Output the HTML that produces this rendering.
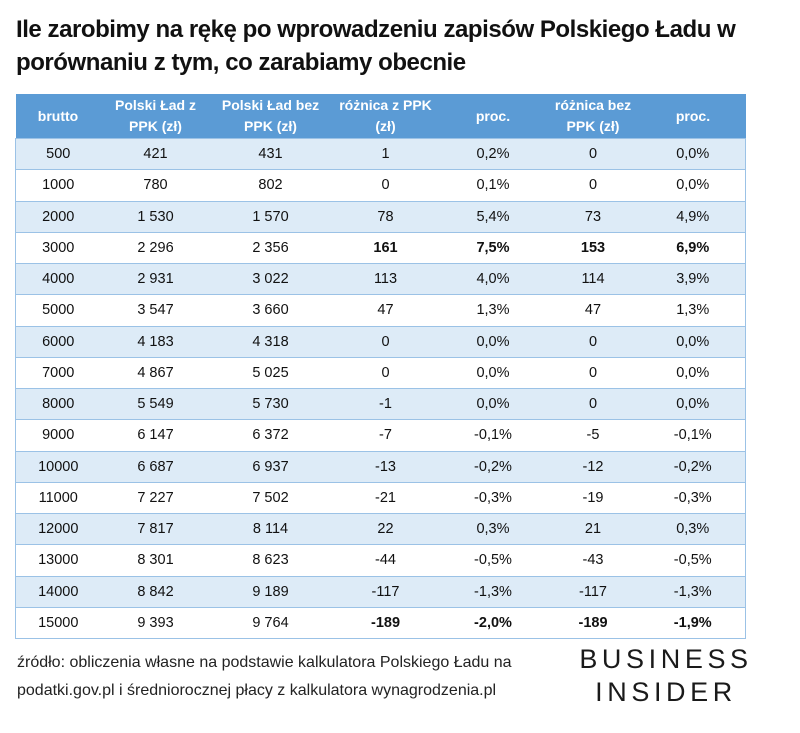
<!DOCTYPE html>
<html><head><meta charset="utf-8">
<style>
body{margin:0;width:800px;height:733px;background:#fff;font-family:"Liberation Sans",sans-serif;position:relative;overflow:hidden;color:#111}
.title{position:absolute;left:16px;top:13px;font-weight:bold;font-size:24px;line-height:33px;letter-spacing:-0.45px;white-space:nowrap}
table{position:absolute;left:15px;top:94px;width:730px;border-collapse:collapse;font-size:14.5px;table-layout:fixed}
th{background:#5b9bd5;color:#fff;font-weight:bold;height:44px;font-size:14px;line-height:21px;padding:0;text-align:center}
td{height:30.25px;padding:0;text-align:center;border-top:1px solid #9bc2e6}
tr.odd td{background:#ddebf7}
tbody tr td:first-child{border-left:1px solid #9bc2e6}
tbody tr td:last-child{border-right:1px solid #9bc2e6}
tbody tr:last-child td{border-bottom:1px solid #9bc2e6}
.b td{font-weight:bold}
.b td:first-child,.b td:nth-child(2),.b td:nth-child(3){font-weight:normal}
.foot{position:absolute;left:17px;top:649px;font-size:16px;line-height:28px;color:#222;white-space:nowrap}
.logo{position:absolute;left:578px;top:643px;font-size:27px;letter-spacing:4.6px;line-height:33px;color:#1a1a1a;text-align:center;width:176px;white-space:nowrap}
</style></head><body>
<div class="title">Ile zarobimy na rękę po wprowadzeniu zapisów Polskiego Ładu w<br>porównaniu z tym, co zarabiamy obecnie</div>
<table>
<colgroup><col style="width:85px"><col style="width:110px"><col style="width:120px"><col style="width:110px"><col style="width:105px"><col style="width:95px"><col style="width:105px"></colgroup>
<thead><tr><th>brutto</th><th>Polski Ład z<br>PPK (zł)</th><th>Polski Ład bez<br>PPK (zł)</th><th>różnica z PPK<br>(zł)</th><th>proc.</th><th>różnica bez<br>PPK (zł)</th><th>proc.</th></tr></thead>
<tbody id="tb"></tbody>
</table>
<div class="foot">źródło: obliczenia własne na podstawie kalkulatora Polskiego Ładu na<br>podatki.gov.pl i średniorocznej płacy z kalkulatora wynagrodzenia.pl</div>
<div class="logo">BUSINESS<br>INSIDER</div>
<script>
const brutto=["500","1000","2000","3000","4000","5000","6000","7000","8000","9000","10000","11000","12000","13000","14000","15000"];
const zPPK=["421","780","1 530","2 296","2 931","3 547","4 183","4 867","5 549","6 147","6 687","7 227","7 817","8 301","8 842","9 393"];
const bezPPK=["431","802","1 570","2 356","3 022","3 660","4 318","5 025","5 730","6 372","6 937","7 502","8 114","8 623","9 189","9 764"];
const rozZ=["1","0","78","161","113","47","0","0","-1","-7","-13","-21","22","-44","-117","-189"];
const procZ=["0,2%","0,1%","5,4%","7,5%","4,0%","1,3%","0,0%","0,0%","0,0%","-0,1%","-0,2%","-0,3%","0,3%","-0,5%","-1,3%","-2,0%"];
const rozBez=["0","0","73","153","114","47","0","0","0","-5","-12","-19","21","-43","-117","-189"];
const procBez=["0,0%","0,0%","4,9%","6,9%","3,9%","1,3%","0,0%","0,0%","0,0%","-0,1%","-0,2%","-0,3%","0,3%","-0,5%","-1,3%","-1,9%"];
const boldRows=["3000","15000"];
const tb=document.getElementById('tb');
brutto.forEach((b,i)=>{
  const tr=document.createElement('tr');
  
  
  if(i%2===0)tr.className='odd';
  if(boldRows.includes(b))tr.className+=' b';
  [b,zPPK[i],bezPPK[i],rozZ[i],procZ[i],rozBez[i],procBez[i]].forEach(v=>{
    const td=document.createElement('td');td.textContent=v;
    
    
    tr.appendChild(td);
  });
  tb.appendChild(tr);
});
</script>
</body></html>
